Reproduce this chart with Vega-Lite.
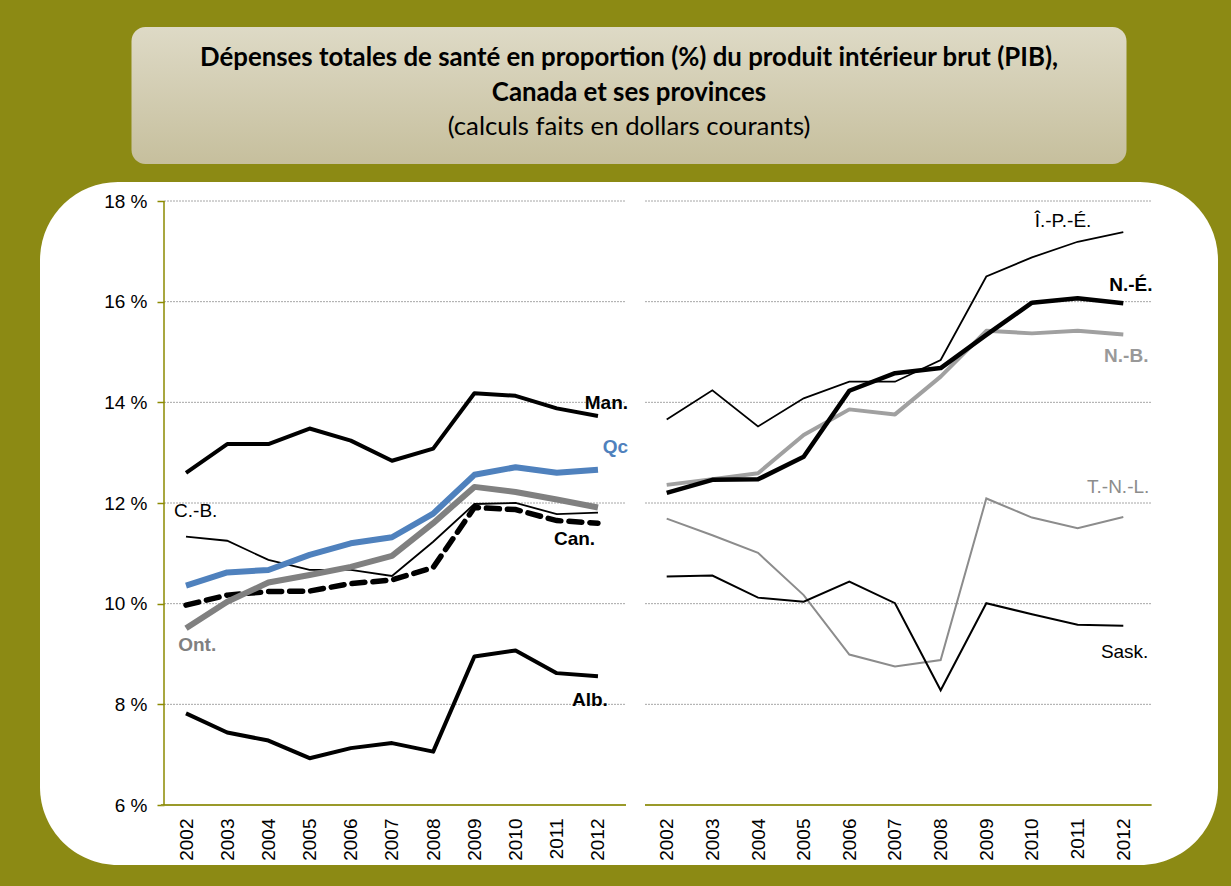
{
  "$schema": "https://vega.github.io/schema/vega-lite/v6.json",
  "background": "#8c8a14",
  "padding": {"left": 40, "top": 27, "right": 13, "bottom": 21},
  "config": {
    "view": {"stroke": null},
    "font": "Liberation Sans",
    "text": {"font": "Liberation Sans", "fontSize": 19},
    "axis": {"grid": false, "domain": false, "labelFont": "Liberation Sans", "labelFontSize": 19, "labelColor": "black"}
  },
  "datasets": {
    "series": [
      {"s": "Man.", "yr": 2002, "v": 12.60}, {"s": "Man.", "yr": 2003, "v": 13.17}, {"s": "Man.", "yr": 2004, "v": 13.17}, {"s": "Man.", "yr": 2005, "v": 13.48}, {"s": "Man.", "yr": 2006, "v": 13.24}, {"s": "Man.", "yr": 2007, "v": 12.84}, {"s": "Man.", "yr": 2008, "v": 13.08}, {"s": "Man.", "yr": 2009, "v": 14.18}, {"s": "Man.", "yr": 2010, "v": 14.13}, {"s": "Man.", "yr": 2011, "v": 13.88}, {"s": "Man.", "yr": 2012, "v": 13.73},
      {"s": "Qc", "yr": 2002, "v": 10.36}, {"s": "Qc", "yr": 2003, "v": 10.62}, {"s": "Qc", "yr": 2004, "v": 10.67}, {"s": "Qc", "yr": 2005, "v": 10.97}, {"s": "Qc", "yr": 2006, "v": 11.20}, {"s": "Qc", "yr": 2007, "v": 11.32}, {"s": "Qc", "yr": 2008, "v": 11.79}, {"s": "Qc", "yr": 2009, "v": 12.56}, {"s": "Qc", "yr": 2010, "v": 12.71}, {"s": "Qc", "yr": 2011, "v": 12.60}, {"s": "Qc", "yr": 2012, "v": 12.66},
      {"s": "Ont.", "yr": 2002, "v": 9.51}, {"s": "Ont.", "yr": 2003, "v": 10.04}, {"s": "Ont.", "yr": 2004, "v": 10.42}, {"s": "Ont.", "yr": 2005, "v": 10.57}, {"s": "Ont.", "yr": 2006, "v": 10.73}, {"s": "Ont.", "yr": 2007, "v": 10.95}, {"s": "Ont.", "yr": 2008, "v": 11.60}, {"s": "Ont.", "yr": 2009, "v": 12.32}, {"s": "Ont.", "yr": 2010, "v": 12.22}, {"s": "Ont.", "yr": 2011, "v": 12.07}, {"s": "Ont.", "yr": 2012, "v": 11.91},
      {"s": "Can.", "yr": 2002, "v": 9.97}, {"s": "Can.", "yr": 2003, "v": 10.17}, {"s": "Can.", "yr": 2004, "v": 10.24}, {"s": "Can.", "yr": 2005, "v": 10.25}, {"s": "Can.", "yr": 2006, "v": 10.40}, {"s": "Can.", "yr": 2007, "v": 10.47}, {"s": "Can.", "yr": 2008, "v": 10.72}, {"s": "Can.", "yr": 2009, "v": 11.91}, {"s": "Can.", "yr": 2010, "v": 11.87}, {"s": "Can.", "yr": 2011, "v": 11.65}, {"s": "Can.", "yr": 2012, "v": 11.60},
      {"s": "C.-B.", "yr": 2002, "v": 11.33}, {"s": "C.-B.", "yr": 2003, "v": 11.25}, {"s": "C.-B.", "yr": 2004, "v": 10.87}, {"s": "C.-B.", "yr": 2005, "v": 10.67}, {"s": "C.-B.", "yr": 2006, "v": 10.67}, {"s": "C.-B.", "yr": 2007, "v": 10.55}, {"s": "C.-B.", "yr": 2008, "v": 11.23}, {"s": "C.-B.", "yr": 2009, "v": 11.98}, {"s": "C.-B.", "yr": 2010, "v": 12.00}, {"s": "C.-B.", "yr": 2011, "v": 11.78}, {"s": "C.-B.", "yr": 2012, "v": 11.81},
      {"s": "Alb.", "yr": 2002, "v": 7.82}, {"s": "Alb.", "yr": 2003, "v": 7.44}, {"s": "Alb.", "yr": 2004, "v": 7.28}, {"s": "Alb.", "yr": 2005, "v": 6.93}, {"s": "Alb.", "yr": 2006, "v": 7.13}, {"s": "Alb.", "yr": 2007, "v": 7.23}, {"s": "Alb.", "yr": 2008, "v": 7.06}, {"s": "Alb.", "yr": 2009, "v": 8.95}, {"s": "Alb.", "yr": 2010, "v": 9.07}, {"s": "Alb.", "yr": 2011, "v": 8.62}, {"s": "Alb.", "yr": 2012, "v": 8.56},
      {"s": "Î.-P.-É.", "yr": 2002, "v": 13.66}, {"s": "Î.-P.-É.", "yr": 2003, "v": 14.24}, {"s": "Î.-P.-É.", "yr": 2004, "v": 13.52}, {"s": "Î.-P.-É.", "yr": 2005, "v": 14.08}, {"s": "Î.-P.-É.", "yr": 2006, "v": 14.41}, {"s": "Î.-P.-É.", "yr": 2007, "v": 14.41}, {"s": "Î.-P.-É.", "yr": 2008, "v": 14.84}, {"s": "Î.-P.-É.", "yr": 2009, "v": 16.50}, {"s": "Î.-P.-É.", "yr": 2010, "v": 16.88}, {"s": "Î.-P.-É.", "yr": 2011, "v": 17.19}, {"s": "Î.-P.-É.", "yr": 2012, "v": 17.38},
      {"s": "N.-É.", "yr": 2002, "v": 12.20}, {"s": "N.-É.", "yr": 2003, "v": 12.46}, {"s": "N.-É.", "yr": 2004, "v": 12.47}, {"s": "N.-É.", "yr": 2005, "v": 12.92}, {"s": "N.-É.", "yr": 2006, "v": 14.23}, {"s": "N.-É.", "yr": 2007, "v": 14.58}, {"s": "N.-É.", "yr": 2008, "v": 14.68}, {"s": "N.-É.", "yr": 2009, "v": 15.34}, {"s": "N.-É.", "yr": 2010, "v": 15.98}, {"s": "N.-É.", "yr": 2011, "v": 16.07}, {"s": "N.-É.", "yr": 2012, "v": 15.97},
      {"s": "N.-B.", "yr": 2002, "v": 12.36}, {"s": "N.-B.", "yr": 2003, "v": 12.47}, {"s": "N.-B.", "yr": 2004, "v": 12.59}, {"s": "N.-B.", "yr": 2005, "v": 13.35}, {"s": "N.-B.", "yr": 2006, "v": 13.86}, {"s": "N.-B.", "yr": 2007, "v": 13.76}, {"s": "N.-B.", "yr": 2008, "v": 14.51}, {"s": "N.-B.", "yr": 2009, "v": 15.42}, {"s": "N.-B.", "yr": 2010, "v": 15.37}, {"s": "N.-B.", "yr": 2011, "v": 15.42}, {"s": "N.-B.", "yr": 2012, "v": 15.35},
      {"s": "T.-N.-L.", "yr": 2002, "v": 11.69}, {"s": "T.-N.-L.", "yr": 2003, "v": 11.36}, {"s": "T.-N.-L.", "yr": 2004, "v": 11.01}, {"s": "T.-N.-L.", "yr": 2005, "v": 10.17}, {"s": "T.-N.-L.", "yr": 2006, "v": 8.99}, {"s": "T.-N.-L.", "yr": 2007, "v": 8.75}, {"s": "T.-N.-L.", "yr": 2008, "v": 8.88}, {"s": "T.-N.-L.", "yr": 2009, "v": 12.09}, {"s": "T.-N.-L.", "yr": 2010, "v": 11.71}, {"s": "T.-N.-L.", "yr": 2011, "v": 11.50}, {"s": "T.-N.-L.", "yr": 2012, "v": 11.72},
      {"s": "Sask.", "yr": 2002, "v": 10.54}, {"s": "Sask.", "yr": 2003, "v": 10.56}, {"s": "Sask.", "yr": 2004, "v": 10.12}, {"s": "Sask.", "yr": 2005, "v": 10.04}, {"s": "Sask.", "yr": 2006, "v": 10.44}, {"s": "Sask.", "yr": 2007, "v": 10.01}, {"s": "Sask.", "yr": 2008, "v": 8.28}, {"s": "Sask.", "yr": 2009, "v": 10.01}, {"s": "Sask.", "yr": 2010, "v": 9.79}, {"s": "Sask.", "yr": 2011, "v": 9.58}, {"s": "Sask.", "yr": 2012, "v": 9.56}
    ],
    "labels": [
      {"t": "Man.", "yr": 2012.73, "v": 13.99},
      {"t": "Qc", "yr": 2012.73, "v": 13.11},
      {"t": "C.-B.", "yr": 2001.71, "v": 11.84},
      {"t": "Can.", "yr": 2011.93, "v": 11.28},
      {"t": "Ont.", "yr": 2001.81, "v": 9.18},
      {"t": "Alb.", "yr": 2012.24, "v": 8.09},
      {"t": "Î.-P.-É.", "yr": 2010.68, "v": 17.60},
      {"t": "N.-É.", "yr": 2012.64, "v": 16.33},
      {"t": "N.-B.", "yr": 2012.55, "v": 14.92},
      {"t": "T.-N.-L.", "yr": 2012.57, "v": 12.32},
      {"t": "Sask.", "yr": 2012.55, "v": 9.04}
    ],
    "gridvals": [{"g": 8}, {"g": 10}, {"g": 12}, {"g": 14}, {"g": 16}, {"g": 18}],
    "axisvals": [{"g": 6}]
  },
  "spacing": 18,
  "center": true,
  "vconcat": [
    {
      "width": 995,
      "height": 137,
      "view": {
        "fill": {"gradient": "linear", "x1": 0, "y1": 0, "x2": 0, "y2": 1, "stops": [{"offset": 0, "color": "#dedac6"}, {"offset": 1, "color": "#c6bf9d"}]},
        "cornerRadius": 14,
        "stroke": null
      },
      "data": {"values": [
        {"r": 1, "line": "Dépenses totales de santé en proportion (%) du produit intérieur brut (PIB),"},
        {"r": 2, "line": "Canada et ses provinces"},
        {"r": 3, "line": "(calculs faits en dollars courants)"}
      ]},
      "encoding": {
        "y": {"field": "r", "type": "ordinal", "axis": null, "scale": {"type": "point", "padding": 0.986}},
        "text": {"field": "line"}
      },
      "layer": [
        {"transform": [{"filter": "datum.r < 3"}], "mark": {"type": "text", "font": "Lato", "fontSize": 25.8, "fontWeight": "bold", "color": "black", "dy": -3}},
        {"transform": [{"filter": "datum.r == 3"}], "mark": {"type": "text", "font": "Lato", "fontSize": 25.8, "color": "black", "dy": -3}}
      ]
    },
    {
      "width": 1178,
      "height": 683,
      "view": {"fill": "white", "cornerRadius": 78, "stroke": null},
      "resolve": {"scale": {"x": "independent"}, "axis": {"x": "independent"}},
      "layer": [
        {
          "layer": [
            {"data": {"name": "gridvals"}, "mark": {"type": "rule", "color": "#a6a6a6", "strokeWidth": 1, "strokeDash": [2, 1]},
              "encoding": {
                "y": {"field": "g", "type": "quantitative", "scale": {"domain": [4.808, 18.3775], "nice": false, "zero": false},
                  "axis": {"orient": "left", "offset": -124, "values": [6, 8, 10, 12, 14, 16, 18], "labelExpr": "datum.value + ' %'", "domain": false, "grid": false, "ticks": true, "tickColor": "#8c8a00", "tickWidth": 1.5, "tickSize": 7, "labelPadding": 10, "title": null}},
                "x": {"datum": 2001.466, "type": "quantitative", "scale": {"domain": [1998.456, 2027.05], "nice": false, "zero": false},
                  "axis": {"orient": "bottom", "offset": -60, "values": [2002, 2003, 2004, 2005, 2006, 2007, 2008, 2009, 2010, 2011, 2012], "format": "d", "labelAngle": 270, "domain": false, "ticks": false, "grid": false, "labelPadding": 13, "labelFlush": false, "labelOverlap": false, "title": null}},
                "x2": {"datum": 2012.68}}},
            {"data": {"name": "axisvals"}, "mark": {"type": "rule", "color": "#9a9a2a", "strokeWidth": 2},
              "encoding": {
                "y": {"field": "g", "type": "quantitative"},
                "x": {"datum": 2001.39, "type": "quantitative"},
                "x2": {"datum": 2012.68}}},
            {"data": {"name": "axisvals"}, "mark": {"type": "rule", "color": "#8c8a00", "strokeWidth": 1.5},
              "encoding": {
                "y": {"field": "g", "type": "quantitative"},
                "y2": {"datum": 18},
                "x": {"datum": 2001.466, "type": "quantitative"}}},
            {"data": {"name": "series"}, "transform": [{"filter": "datum.s === 'C.-B.'"}], "mark": {"type": "line", "color": "black", "strokeWidth": 1.8},
              "encoding": {"x": {"field": "yr", "type": "quantitative"}, "y": {"field": "v", "type": "quantitative"}}},
            {"data": {"name": "series"}, "transform": [{"filter": "datum.s === 'Can.'"}], "mark": {"type": "line", "color": "black", "strokeWidth": 5.5, "strokeDash": [13, 8], "strokeCap": "round"},
              "encoding": {"x": {"field": "yr", "type": "quantitative"}, "y": {"field": "v", "type": "quantitative"}}},
            {"data": {"name": "series"}, "transform": [{"filter": "datum.s === 'Ont.'"}], "mark": {"type": "line", "color": "#808080", "strokeWidth": 6, "strokeJoin": "round"},
              "encoding": {"x": {"field": "yr", "type": "quantitative"}, "y": {"field": "v", "type": "quantitative"}}},
            {"data": {"name": "series"}, "transform": [{"filter": "datum.s === 'Qc'"}], "mark": {"type": "line", "color": "#4f81bd", "strokeWidth": 6, "strokeJoin": "round"},
              "encoding": {"x": {"field": "yr", "type": "quantitative"}, "y": {"field": "v", "type": "quantitative"}}},
            {"data": {"name": "series"}, "transform": [{"filter": "datum.s === 'Man.' || datum.s === 'Alb.'"}], "mark": {"type": "line", "color": "black", "strokeWidth": 4, "strokeJoin": "round"},
              "encoding": {"x": {"field": "yr", "type": "quantitative"}, "y": {"field": "v", "type": "quantitative"}, "detail": {"field": "s"}}},
            {"data": {"name": "labels"}, "transform": [{"filter": "indexof(['Man.','Can.','Alb.'], datum.t) >= 0"}], "mark": {"type": "text", "align": "right", "fontWeight": "bold", "color": "black"},
              "encoding": {"x": {"field": "yr", "type": "quantitative"}, "y": {"field": "v", "type": "quantitative"}, "text": {"field": "t"}}},
            {"data": {"name": "labels"}, "transform": [{"filter": "datum.t === 'Qc'"}], "mark": {"type": "text", "align": "right", "fontWeight": "bold", "color": "#4f81bd"},
              "encoding": {"x": {"field": "yr", "type": "quantitative"}, "y": {"field": "v", "type": "quantitative"}, "text": {"field": "t"}}},
            {"data": {"name": "labels"}, "transform": [{"filter": "datum.t === 'C.-B.'"}], "mark": {"type": "text", "align": "left", "color": "black"},
              "encoding": {"x": {"field": "yr", "type": "quantitative"}, "y": {"field": "v", "type": "quantitative"}, "text": {"field": "t"}}},
            {"data": {"name": "labels"}, "transform": [{"filter": "datum.t === 'Ont.'"}], "mark": {"type": "text", "align": "left", "fontWeight": "bold", "color": "#808080"},
              "encoding": {"x": {"field": "yr", "type": "quantitative"}, "y": {"field": "v", "type": "quantitative"}, "text": {"field": "t"}}}
          ]
        },
        {
          "layer": [
            {"data": {"name": "gridvals"}, "mark": {"type": "rule", "color": "#a6a6a6", "strokeWidth": 1, "strokeDash": [2, 1]},
              "encoding": {
                "y": {"field": "g", "type": "quantitative", "scale": {"domain": [4.808, 18.3775], "nice": false, "zero": false}},
                "x": {"datum": 2001.525, "type": "quantitative", "scale": {"domain": [1988.275, 2014.074], "nice": false, "zero": false},
                  "axis": {"orient": "bottom", "offset": -60, "values": [2002, 2003, 2004, 2005, 2006, 2007, 2008, 2009, 2010, 2011, 2012], "format": "d", "labelAngle": 270, "domain": false, "ticks": false, "grid": false, "labelPadding": 13, "labelFlush": false, "labelOverlap": false, "title": null}},
                "x2": {"datum": 2012.62}}},
            {"data": {"name": "axisvals"}, "mark": {"type": "rule", "color": "#9a9a2a", "strokeWidth": 2},
              "encoding": {
                "y": {"field": "g", "type": "quantitative"},
                "x": {"datum": 2001.525, "type": "quantitative"},
                "x2": {"datum": 2012.62}}},
            {"data": {"name": "series"}, "transform": [{"filter": "datum.s === 'T.-N.-L.'"}], "mark": {"type": "line", "color": "#8c8c8c", "strokeWidth": 2},
              "encoding": {"x": {"field": "yr", "type": "quantitative"}, "y": {"field": "v", "type": "quantitative"}}},
            {"data": {"name": "series"}, "transform": [{"filter": "datum.s === 'Sask.'"}], "mark": {"type": "line", "color": "black", "strokeWidth": 2},
              "encoding": {"x": {"field": "yr", "type": "quantitative"}, "y": {"field": "v", "type": "quantitative"}}},
            {"data": {"name": "series"}, "transform": [{"filter": "datum.s === 'Î.-P.-É.'"}], "mark": {"type": "line", "color": "black", "strokeWidth": 1.8},
              "encoding": {"x": {"field": "yr", "type": "quantitative"}, "y": {"field": "v", "type": "quantitative"}}},
            {"data": {"name": "series"}, "transform": [{"filter": "datum.s === 'N.-B.'"}], "mark": {"type": "line", "color": "#a0a0a0", "strokeWidth": 4, "strokeJoin": "round"},
              "encoding": {"x": {"field": "yr", "type": "quantitative"}, "y": {"field": "v", "type": "quantitative"}}},
            {"data": {"name": "series"}, "transform": [{"filter": "datum.s === 'N.-É.'"}], "mark": {"type": "line", "color": "black", "strokeWidth": 4.5, "strokeJoin": "round"},
              "encoding": {"x": {"field": "yr", "type": "quantitative"}, "y": {"field": "v", "type": "quantitative"}}},
            {"data": {"name": "labels"}, "transform": [{"filter": "datum.t === 'Î.-P.-É.'"}], "mark": {"type": "text", "align": "center", "color": "black"},
              "encoding": {"x": {"field": "yr", "type": "quantitative"}, "y": {"field": "v", "type": "quantitative"}, "text": {"field": "t"}}},
            {"data": {"name": "labels"}, "transform": [{"filter": "datum.t === 'N.-É.'"}], "mark": {"type": "text", "align": "right", "fontWeight": "bold", "color": "black"},
              "encoding": {"x": {"field": "yr", "type": "quantitative"}, "y": {"field": "v", "type": "quantitative"}, "text": {"field": "t"}}},
            {"data": {"name": "labels"}, "transform": [{"filter": "datum.t === 'N.-B.'"}], "mark": {"type": "text", "align": "right", "fontWeight": "bold", "color": "#999999"},
              "encoding": {"x": {"field": "yr", "type": "quantitative"}, "y": {"field": "v", "type": "quantitative"}, "text": {"field": "t"}}},
            {"data": {"name": "labels"}, "transform": [{"filter": "datum.t === 'T.-N.-L.'"}], "mark": {"type": "text", "align": "right", "color": "#8c8c8c"},
              "encoding": {"x": {"field": "yr", "type": "quantitative"}, "y": {"field": "v", "type": "quantitative"}, "text": {"field": "t"}}},
            {"data": {"name": "labels"}, "transform": [{"filter": "datum.t === 'Sask.'"}], "mark": {"type": "text", "align": "right", "color": "black"},
              "encoding": {"x": {"field": "yr", "type": "quantitative"}, "y": {"field": "v", "type": "quantitative"}, "text": {"field": "t"}}}
          ]
        }
      ]
    }
  ]
}
